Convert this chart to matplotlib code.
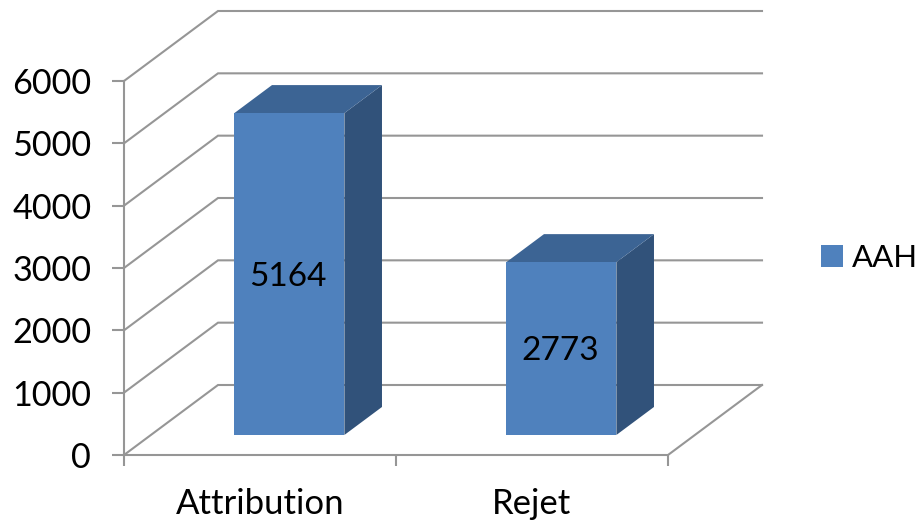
import numpy as np
import matplotlib
matplotlib.use("Agg")
import matplotlib.pyplot as plt

categories = ["Attribution", "Rejet"]
values = [5164, 2773]
series_name = "AAH"
y_ticks = [0, 1000, 2000, 3000, 4000, 5000, 6000]

plt.rcParams['font.family'] = ['Lato', 'DejaVu Sans']

FRONT = "#4F81BD"
SIDE = "#31527A"
TOP = "#3C6494"
GRID = "#969696"

W, H = 920, 521
fig = plt.figure(figsize=(W / 100, H / 100), dpi=100)
# axes = the front plane of the 3D box
ax = fig.add_axes([124 / W, (H - 455) / H, 544 / W, 374 / H])
ax.set_xlim(0, len(categories))
ax.set_ylim(0, 6000)
ax.patch.set_visible(False)
for s in ax.spines.values():
    s.set_visible(False)

# depth of the box in data units
dx = 94 / 272
dy = 70 / 374 * 6000


def proj(x, y, d):
    # d = 0 front plane, d = 1 back wall
    return x + d * dx, y + d * dy


# walls and gridlines
for v in y_ticks:
    a = proj(0, v, 0)
    b = proj(0, v, 1)
    c = proj(len(categories), v, 1)
    ax.plot([a[0], b[0], c[0]], [a[1], b[1], c[1]], color=GRID, lw=1.5,
            clip_on=False, zorder=1, solid_joinstyle="miter")
a = proj(0, 0, 0)
b = proj(len(categories), 0, 0)
c = proj(len(categories), 0, 1)
ax.plot([a[0], b[0], c[0]], [a[1], b[1], c[1]], color=GRID, lw=1.5, clip_on=False, zorder=1)
a = proj(0, 0, 0)
b = proj(0, 6000, 0)
ax.plot([a[0], b[0]], [a[1], b[1]], color=GRID, lw=1.5, clip_on=False, zorder=1)

# bars
bar_w = 110 / 272
shift = 2.5 / 272
d0, d1 = 0.286, 0.686
for i, v in enumerate(values):
    x0 = i + 0.5 + shift - bar_w / 2
    x1 = i + 0.5 + shift + bar_w / 2
    pts = [proj(x1, 0, d0), proj(x1, 0, d1), proj(x1, v, d1), proj(x1, v, d0)]
    ax.fill(*zip(*pts), color=SIDE, lw=0, clip_on=False, zorder=3)
    pts = [proj(x0, v, d0), proj(x0, v, d1), proj(x1, v, d1), proj(x1, v, d0)]
    ax.fill(*zip(*pts), color=TOP, lw=0, clip_on=False, zorder=3)
    pts = [proj(x0, 0, d0), proj(x1, 0, d0), proj(x1, v, d0), proj(x0, v, d0)]
    ax.fill(*zip(*pts), color=FRONT, lw=0, clip_on=False, zorder=4,
            label=series_name if i == 0 else None)
    lx, ly = proj(i + 0.5 + shift, v / 2, d0)
    ax.annotate(str(v), (lx, ly), xytext=(-1, -2), textcoords="offset points",
                ha="center", va="center", fontsize=24, color="black", zorder=5)

ax.set_yticks(y_ticks)
ax.set_xticks(range(len(categories) + 1))
ax.set_xticklabels([])
ax.set_xticks([i + 0.5 for i in range(len(categories))], minor=True)
ax.set_xticklabels(categories, minor=True)
ax.tick_params(axis="x", which="major", length=8, width=1.5, color=GRID)
ax.tick_params(axis="x", which="minor", length=0, labelsize=25, pad=24)
ax.tick_params(axis="y", length=8.6, width=1.5, color=GRID, labelsize=24.6, pad=15)
for t in ax.get_yticklabels():
    t.set_verticalalignment("center_baseline")

ax.legend(loc="center left", bbox_to_anchor=(821 / W, (H - 258) / H),
          bbox_transform=fig.transFigure, frameon=False, fontsize=22.5,
          handlelength=0.69, handleheight=0.69, handletextpad=0.3, borderpad=0, borderaxespad=0)

fig.savefig("out.png", dpi=100)
